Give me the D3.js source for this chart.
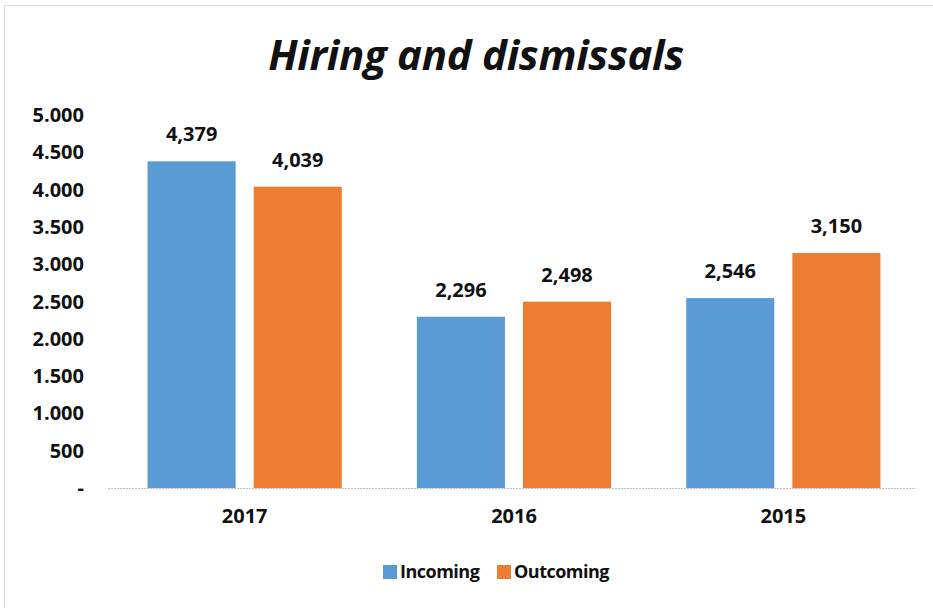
<!DOCTYPE html>
<html>
<head>
<meta charset="utf-8">
<script src="https://cdn.jsdelivr.net/npm/d3@7"></script>
<style>
  body { margin: 0; background: #fff; }
  svg text { font-family: "Open Sans", sans-serif; font-weight: bold; fill: #111; }
</style>
</head>
<body>
<div id="chart"></div>
<script>
var years = ["2017", "2016", "2015"];
var series = ["Incoming", "Outcoming"];
var incoming = [4379, 2296, 2546];
var outcoming = [4039, 2498, 3150];
var colors = ["#5B9BD5", "#ED7D31"];
var yTicks = [0, 500, 1000, 1500, 2000, 2500, 3000, 3500, 4000, 4500, 5000];

var width = 933, height = 608;

var svg = d3.select("#chart").append("svg")
    .attr("width", width)
    .attr("height", height);

// chart frame
svg.append("rect")
    .attr("x", 4.5).attr("y", 5.5)
    .attr("width", 940).attr("height", 620)
    .style("fill", "none")
    .style("stroke", "#d9d9d9");

var data = years.map(function(y, i) {
  return { year: y, values: [incoming[i], outcoming[i]] };
});

var x = d3.scaleBand()
    .domain(years)
    .range([110, 918]);

var xInner = d3.scaleBand()
    .domain(series)
    .range([0, x.bandwidth()])
    .paddingInner(0.17)
    .paddingOuter(0.354);

var y = d3.scaleLinear()
    .domain([0, 5000])
    .range([488, 115]);

// title
svg.append("text")
    .attr("x", 476)
    .attr("y", 70)
    .attr("text-anchor", "middle")
    .style("font-size", "42px")
    .style("font-style", "italic")
    .style("letter-spacing", "-0.3px")
    .text("Hiring and dismissals");

// y axis labels
var yFmt = function(d) {
  return d === 0 ? "-" : d3.format(",")(d).replace(/,/g, ".");
};
svg.append("g")
    .attr("class", "y-axis")
  .selectAll("text")
    .data(yTicks)
  .enter().append("text")
    .attr("x", 84)
    .attr("y", function(d) { return y(d); })
    .attr("dy", "0.35em")
    .attr("text-anchor", "end")
    .style("font-size", "20px")
    .text(yFmt);

// baseline
svg.append("line")
    .attr("x1", 108).attr("x2", 916)
    .attr("y1", y(0) + 0.5).attr("y2", y(0) + 0.5)
    .style("stroke", "#bfbfbf")
    .style("stroke-dasharray", "2,1");

// bars
var group = svg.selectAll(".year")
    .data(data)
  .enter().append("g")
    .attr("class", "year")
    .attr("transform", function(d) { return "translate(" + x(d.year) + ",0)"; });

var cell = group.selectAll(".bar")
    .data(function(d) {
      return d.values.map(function(v, i) { return { name: series[i], value: v, i: i }; });
    })
  .enter();

cell.append("rect")
    .attr("class", "bar")
    .attr("x", function(d) { return xInner(d.name); })
    .attr("y", function(d) { return y(d.value); })
    .attr("width", xInner.bandwidth())
    .attr("height", function(d) { return y(0) - y(d.value); })
    .style("fill", function(d) { return colors[d.i]; });

cell.append("text")
    .attr("x", function(d) { return xInner(d.name) + xInner.bandwidth() / 2; })
    .attr("y", function(d) { return y(d.value) - 27; })
    .attr("dy", "0.35em")
    .attr("text-anchor", "middle")
    .style("font-size", "20px")
    .text(function(d) { return d3.format(",")(d.value); });

// x labels
svg.selectAll(".xlabel")
    .data(years)
  .enter().append("text")
    .attr("class", "xlabel")
    .attr("x", function(d) { return x(d) + x.bandwidth() / 2; })
    .attr("y", 516)
    .attr("dy", "0.35em")
    .attr("text-anchor", "middle")
    .style("font-size", "20px")
    .text(function(d) { return d; });

// legend
var legendX = [383, 497];
var legend = svg.selectAll(".legend")
    .data(series)
  .enter().append("g")
    .attr("class", "legend")
    .attr("transform", function(d, i) { return "translate(" + legendX[i] + ",565)"; });

legend.append("rect")
    .attr("width", 14).attr("height", 14)
    .style("fill", function(d, i) { return colors[i]; });

legend.append("text")
    .attr("x", 17)
    .attr("y", 7)
    .attr("dy", "0.35em")
    .style("font-size", "18px")
    .style("letter-spacing", "-0.5px")
    .text(function(d) { return d; });
</script>
</body>
</html>
